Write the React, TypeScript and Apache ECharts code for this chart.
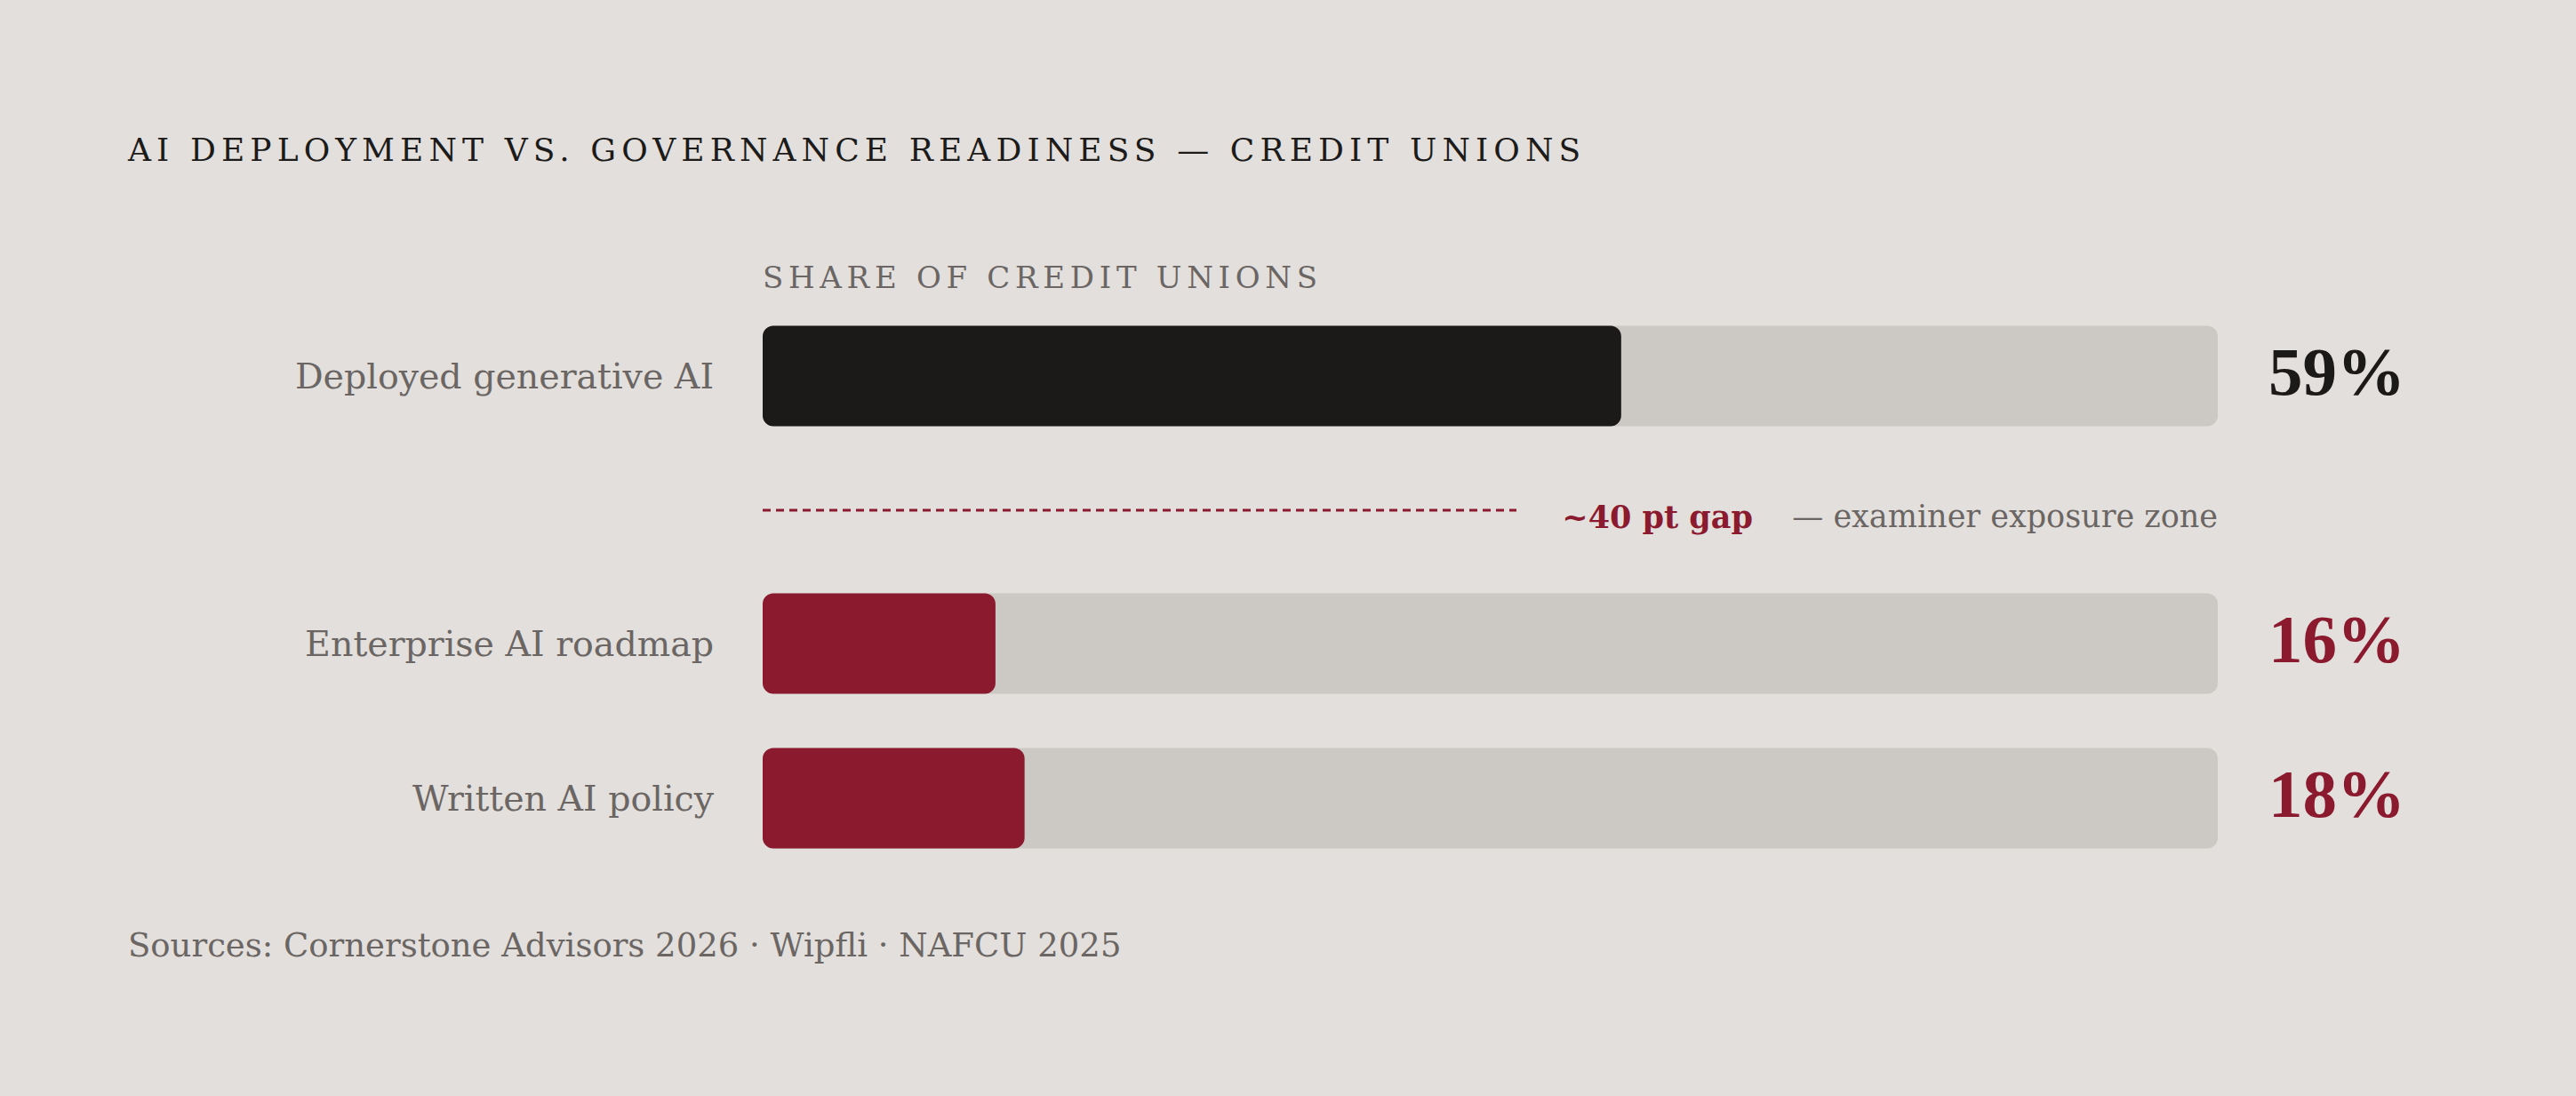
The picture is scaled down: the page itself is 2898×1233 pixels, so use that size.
import React, { useEffect, useRef } from "react";
import * as echarts from "echarts";

// ---- data ----
const categories = ["Deployed generative AI", "Enterprise AI roadmap", "Written AI policy"];
const shares = [59, 16, 18];
const scaleMax = 100;
const topRows = [0];
const bottomRows = [1, 2];
const chartTitle = "AI DEPLOYMENT VS. GOVERNANCE READINESS — CREDIT UNIONS";
const axisTitle = "SHARE OF CREDIT UNIONS";
const gapLabel = "~40 pt gap";
const gapNote = "— examiner exposure zone";
const sourceNote = "Sources: Cornerstone Advisors 2026 · Wipfli · NAFCU 2025";

// ---- styles ----
const BG = "#e2dfdc";
const TRACK = "#ccc9c4";
const INK = "#1b1a19";
const TITLE_INK = "#1c1b1a";
const CRIMSON = "#8b1a2e";
const GREY = "#6b6663";
const SUB_GREY = "#6b6664";
const SERIF = "'DejaVu Serif', serif";
const NUM_SERIF = "'Liberation Serif', serif";

const W = 2898;
const H = 1233;
const PLOT_LEFT = 858;
const PLOT_WIDTH = 1637;
const BAR_W = 113;

function buildSeries(rows: number[], gi: number) {
  return [
    {
      type: "bar",
      xAxisIndex: gi,
      yAxisIndex: gi,
      barWidth: BAR_W,
      barGap: "-100%",
      silent: true,
      z: 1,
      itemStyle: { color: TRACK, borderRadius: 12 },
      label: {
        show: true,
        position: "right",
        distance: 57,
        offset: [0, -5],
        fontFamily: NUM_SERIF,
        fontWeight: "bold",
        fontSize: 77,
        formatter: (p: any) => shares[rows[p.dataIndex]] + "%",
      },
      data: rows.map((i) => ({
        value: scaleMax,
        label: { color: i === 0 ? INK : CRIMSON },
      })),
    },
    {
      type: "bar",
      xAxisIndex: gi,
      yAxisIndex: gi,
      barWidth: BAR_W,
      barGap: "-100%",
      silent: true,
      z: 2,
      data: rows.map((i) => ({
        value: shares[i],
        itemStyle: { color: i === 0 ? INK : CRIMSON, borderRadius: 12 },
      })),
    },
  ];
}

function yAxisFor(rows: number[], gi: number) {
  return {
    type: "category",
    gridIndex: gi,
    inverse: true,
    data: rows.map((i) => categories[i]),
    axisLine: { show: false },
    axisTick: { show: false },
    splitLine: { show: false },
    axisLabel: {
      margin: 55,
      color: GREY,
      fontFamily: SERIF,
      fontSize: 39.5,
    },
  };
}

function xAxisFor(gi: number) {
  return {
    type: "value",
    gridIndex: gi,
    min: 0,
    max: scaleMax,
    show: false,
  };
}

export default function App() {
  const ref = useRef<HTMLDivElement>(null);

  useEffect(() => {
    if (!ref.current) return;
    const chart = echarts.init(ref.current, null, { renderer: "svg" });
    chart.setOption({
      animation: false,
      backgroundColor: BG,
      grid: [
        { left: PLOT_LEFT, width: PLOT_WIDTH, top: 366, height: 114 },
        { left: PLOT_LEFT, width: PLOT_WIDTH, top: 637, height: 348 },
      ],
      xAxis: [xAxisFor(0), xAxisFor(1)],
      yAxis: [yAxisFor(topRows, 0), yAxisFor(bottomRows, 1)],
      series: [...buildSeries(topRows, 0), ...buildSeries(bottomRows, 1)],
      graphic: [
        {
          type: "text",
          x: 144,
          y: 168,
          style: {
            text: chartTitle,
            fill: TITLE_INK,
            font: `36px ${SERIF}`,
            verticalAlign: "middle",
            align: "left",
          },
        },
        {
          type: "text",
          x: PLOT_LEFT,
          y: 312,
          style: {
            text: axisTitle,
            fill: SUB_GREY,
            font: `34px ${SERIF}`,
            verticalAlign: "middle",
            align: "left",
          },
        },
        {
          type: "line",
          shape: { x1: PLOT_LEFT, y1: 574, x2: 1706, y2: 574 },
          style: { stroke: CRIMSON, lineWidth: 3, lineDash: [9, 6] },
        },
        {
          type: "text",
          x: 1972,
          y: 581,
          style: {
            text: gapLabel,
            fill: CRIMSON,
            font: `bold 35px ${SERIF}`,
            verticalAlign: "middle",
            align: "right",
          },
        },
        {
          type: "text",
          x: PLOT_LEFT + PLOT_WIDTH,
          y: 581,
          style: {
            text: gapNote,
            fill: GREY,
            font: `35px ${SERIF}`,
            verticalAlign: "middle",
            align: "right",
          },
        },
        {
          type: "text",
          x: 144,
          y: 1063,
          style: {
            text: sourceNote,
            fill: GREY,
            font: `37px ${SERIF}`,
            verticalAlign: "middle",
            align: "left",
          },
        },
      ],
    });
    return () => chart.dispose();
  }, []);

  return (
    <>
      <style>{`#chart-host text[fill="${TITLE_INK}"]{letter-spacing:6.1px}#chart-host text[fill="${SUB_GREY}"]{letter-spacing:5.7px}`}</style>
      <div
        id="chart-host"
        ref={ref}
        style={{ position: "fixed", left: 0, top: 0, width: W, height: H, background: BG }}
      />
    </>
  );
}
